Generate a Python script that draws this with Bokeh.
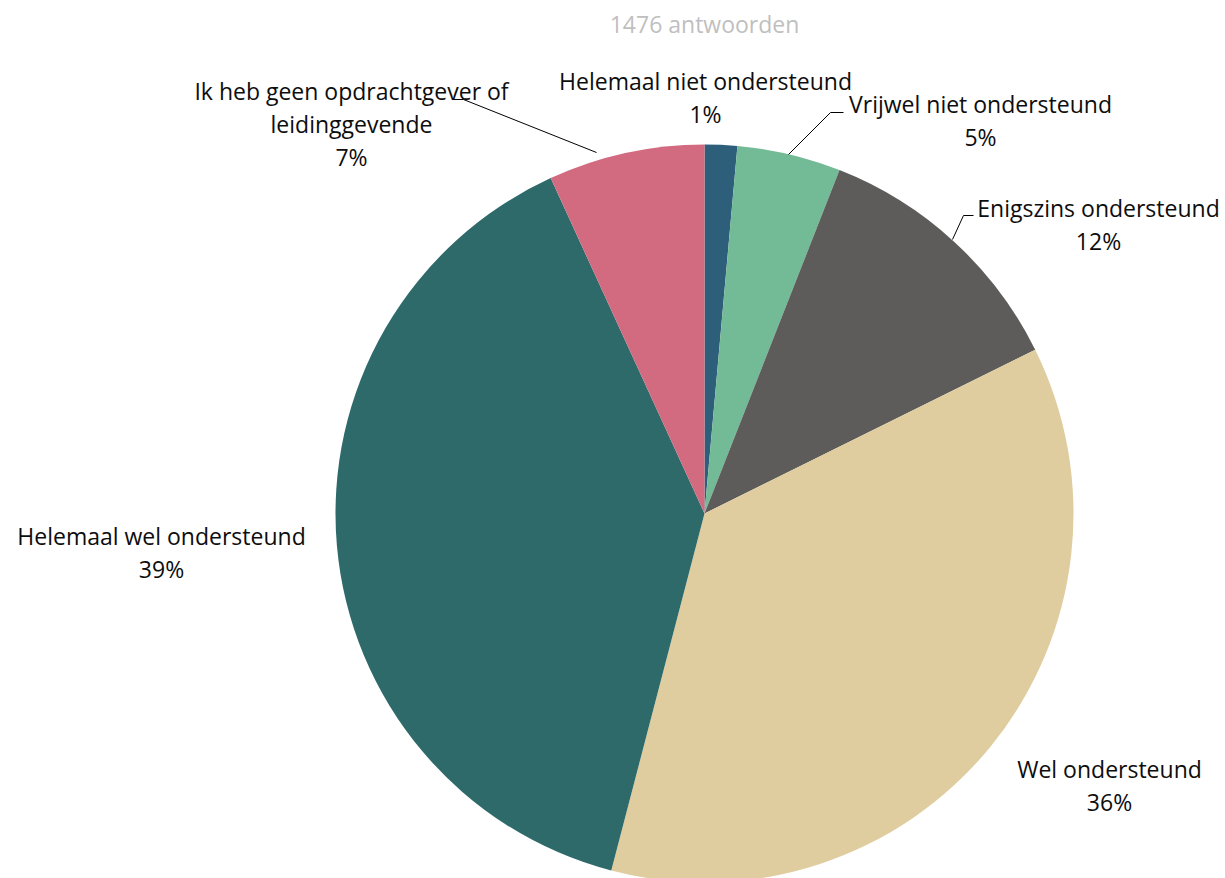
import numpy as np
from bokeh.plotting import figure
from bokeh.models import Range1d, ColumnDataSource
from bokeh.core.properties import value
from bokeh.embed import file_html
from bokeh.resources import INLINE

# Data
categories = ["Helemaal niet ondersteund", "Vrijwel niet ondersteund", "Enigszins ondersteund",
              "Wel ondersteund", "Helemaal wel ondersteund",
              "Ik heb geen opdrachtgever of leidinggevende"]
counts = [21, 67, 173, 537, 577, 101]
colors = ["#2E5F7A", "#73BB96", "#5E5C5A", "#E0CD9F", "#2F6A6B", "#D36B80"]
title_text = "1476 antwoorden"

W, H = 1225, 878
OFF = 0

def X(px):
    return px - OFF

def Y(py):
    return (H + OFF) - py

p = figure(width=W, height=H, output_backend="svg", toolbar_location=None,
           x_range=Range1d(0, W), y_range=Range1d(0, H), min_border=0)
p.axis.visible = False
p.grid.visible = False
p.outline_line_color = None
p.background_fill_color = "white"
p.border_fill_color = "white"

total = sum(counts)
fr = np.array(counts) / total
cum = np.concatenate([[0], np.cumsum(fr)])
start = np.pi / 2 - 2 * np.pi * cum[1:]
end = np.pi / 2 - 2 * np.pi * cum[:-1]

cx, cy, r = X(704), Y(513), 369
src = ColumnDataSource(dict(start=start, end=end, color=colors))
p.wedge(x=cx, y=cy, radius=r, radius_units="screen", start_angle="start", end_angle="end",
        direction="anticlock", fill_color="color", line_color=None, source=src)

pct = [f"{round(f * 100):.0f}%" for f in fr]

font = value("Open Sans")
fs = "23px"

def label(lines, x, y0, dy=33):
    for i, t in enumerate(lines):
        p.text(x=[X(x)], y=[Y(y0 + i * dy)], text=[t], text_font=font, text_font_size=fs,
               text_color="#0D0D0D", text_align="center", text_baseline="middle")

label([categories[0], pct[0]], 705, 80)
label([categories[1], pct[1]], 980, 103)
label([categories[2], pct[2]], 1098, 207)
label([categories[3], pct[3]], 1109, 768)
label([categories[4], pct[4]], 161, 535)
label(["Ik heb geen opdrachtgever of", "leidinggevende", pct[5]], 351, 90)

# leader lines
def leader(pts):
    p.line(x=[X(a) for a, b in pts], y=[Y(b) for a, b in pts], line_color="black", line_width=1)

leader([(596, 152), (463, 99), (453, 99)])
leader([(788, 154), (830, 112), (843, 112)])
leader([(952, 239), (963, 215), (973, 215)])

p.text(x=[X(704)], y=[Y(23)], text=[title_text], text_font=font, text_font_size="23px",
       text_color="#BFBFBF", text_align="center", text_baseline="middle")

open("out.html", "w").write(file_html(p, INLINE))
